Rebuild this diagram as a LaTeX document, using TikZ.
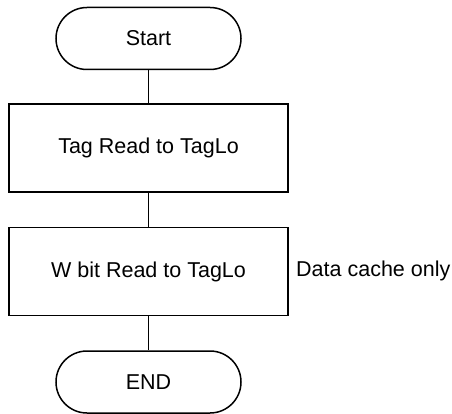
\documentclass[tikz,border=0pt]{standalone}
\usepackage{fontspec}
\setmainfont{Liberation Sans}
\begin{document}
\begin{tikzpicture}[x=1pt,y=-1pt,
  lw/.style={line width=1.5pt},
  term/.style={draw,lw,rounded corners=31pt,minimum width=185pt,minimum height=62pt,inner sep=0pt,font=\fontsize{21.5}{24}\selectfont},
  procbox/.style={draw,lw,minimum width=279pt,minimum height=88pt,inner sep=0pt,font=\fontsize{21.5}{24}\selectfont},
  conn/.style={lw}]
\useasboundingbox (0,0) rectangle (452,414);
\node[term] (start) at (148.5,38.5) {Start};
\node[procbox] (tag) at (148.5,148) {Tag Read to TagLo};
\node[procbox] (wbit) at (148.5,271.5) {W bit Read to TagLo};
\node[term] (end) at (148.5,382) {END};
\node[anchor=west,inner sep=0pt,font=\fontsize{21.5}{24}\selectfont] (note) at (296,271) {Data cache only};
\draw[conn] (start) -- (tag);
\draw[conn] (tag) -- (wbit);
\draw[conn] (wbit) -- (end);
\end{tikzpicture}
\end{document}
